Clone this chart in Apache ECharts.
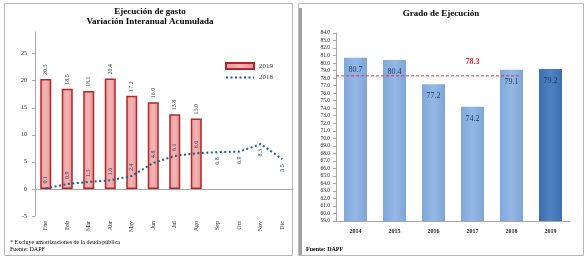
<!DOCTYPE html>
<html><head><meta charset="utf-8">
<script src="https://cdn.jsdelivr.net/npm/echarts@6/dist/echarts.min.js"></script>
<style>html,body{margin:0;padding:0;background:#fff}#c{width:586px;height:258px}</style>
</head><body><div id="c"></div>
<script>
// Left chart data
const months = ["Ene","Feb","Mar","Abr","May","Jun","Jul","Ago","Sep","Oct","Nov","Dic"];
const gasto2019 = [20.3, 18.5, 18.1, 20.4, 17.2, 16.0, 13.8, 13.0];
const gasto2018 = [0.1, 0.9, 1.3, 1.6, 2.4, 4.8, 6.1, 6.6, 6.8, 6.9, 8.3, 5.5];
const leftTicks = [-5, 0, 5, 10, 15, 20, 25];
// Right chart data
const years = ["2014","2015","2016","2017","2018","2019"];
const grado = [80.7, 80.4, 77.2, 74.2, 79.1, 79.2];
const promedio = 78.3;
const rightTicks = [59,60,61,62,63,64,65,66,67,68,69,70,71,72,73,74,75,76,77,78,79,80,81,82,83,84];

const serif = "Liberation Serif";
const chart = echarts.init(document.getElementById('c'), null, {renderer:'canvas'});
const lineLabelTop = {position:'top', align:'left', distance:5};
const lineLabelBottom = {position:'bottom', align:'right', distance:5};
chart.setOption({
  animation:false,
  textStyle:{fontFamily:serif},
  graphic:[
    {type:'rect', shape:{x:4.5,y:3.5,width:288,height:252}, style:{fill:'none',stroke:'#b8b8b8',lineWidth:1}},
    {type:'rect', shape:{x:298.5,y:3.5,width:285,height:252}, style:{fill:'none',stroke:'#b8b8b8',lineWidth:1}},
    {type:'rect', shape:{x:299,y:8,width:3,height:247}, style:{fill:'#a0a0a0'}},
    {type:'text', x:150, y:7, style:{text:'Ejecución de gasto', font:'bold 9px "Liberation Serif"', fill:'#000', textAlign:'center'}},
    {type:'text', x:150, y:17, style:{text:'Variación Interanual Acumulada', font:'bold 9px "Liberation Serif"', fill:'#000', textAlign:'center'}},
    {type:'text', x:10, y:239, style:{text:'* Excluye amortizaciones de la deuda pública', font:'6px "Liberation Serif"', fill:'#000'}},
    {type:'text', x:10, y:246, style:{text:'Fuente: DAPF', font:'6px "Liberation Serif"', fill:'#000'}},
    {type:'text', x:441, y:9, style:{text:'Grado de Ejecución', font:'bold 9px "Liberation Serif"', fill:'#000', textAlign:'center'}},
    {type:'text', x:306, y:246, style:{text:'Fuente: DAPF', font:'bold 6px "Liberation Serif"', fill:'#000'}}
  ],
  legend:{
    left:220, top:57, orient:'vertical', itemGap:4, itemWidth:28, itemHeight:6,
    textStyle:{fontSize:7, fontFamily:serif, color:'#333'},
    data:[{name:'2019', icon:'rect'}, {name:'2018', itemStyle:{opacity:0}}]
  },
  grid:[
    {left:35, right:293, top:32, bottom:42},
    {left:336, right:16, top:33, bottom:37}
  ],
  xAxis:[
    {gridIndex:0, type:'category', data:months, axisLine:{onZero:true, lineStyle:{color:'#a6a6a6'}}, axisTick:{show:false}, axisLabel:{show:false}},
    {gridIndex:0, type:'category', data:months, position:'bottom', axisLine:{show:false, onZero:false}, axisTick:{show:false},
      axisLabel:{rotate:90, fontSize:6, color:'#222', fontFamily:serif, margin:5}},
    {gridIndex:1, type:'category', data:years, axisLine:{lineStyle:{color:'#a6a6a6'}}, axisTick:{show:false},
      axisLabel:{fontSize:6, fontWeight:'bold', color:'#222', fontFamily:serif, margin:7}},
    {gridIndex:1, type:'value', min:0, max:6, show:false}
  ],
  yAxis:[
    {gridIndex:0, type:'value', min:-5, max:29, interval:5, splitLine:{show:false},
      axisLine:{show:true, lineStyle:{color:'#a6a6a6'}}, axisTick:{show:true, length:3},
      axisLabel:{fontSize:6, color:'#222', fontFamily:serif, showMaxLabel:false, margin:8}},
    {gridIndex:1, type:'value', min:59, max:84, interval:1, splitLine:{show:false},
      axisLine:{show:true, lineStyle:{color:'#a6a6a6'}}, axisTick:{show:true, length:3},
      axisLabel:{fontSize:5.5, color:'#222', fontFamily:serif, margin:6, formatter:v=>v.toFixed(1)}}
  ],
  series:[
    {name:'2019', type:'bar', xAxisIndex:0, yAxisIndex:0, data:gasto2019, barWidth:11,
      itemStyle:{color:new echarts.graphic.LinearGradient(0,0,1,0,[{offset:0,color:'#e99a9a'},{offset:0.5,color:'#f3b6b6'},{offset:1,color:'#e28f8f'}]), borderColor:'#b3262b', borderWidth:1.5},
      label:{show:true, position:'top', rotate:90, align:'left', verticalAlign:'middle', distance:4, fontSize:6, color:'#333', fontFamily:serif, formatter:p=>p.value.toFixed(1)}, z:2},
    {name:'2018', type:'line', xAxisIndex:0, yAxisIndex:0,
      data:gasto2018.map((v,i)=>({value:v, label: i < gasto2019.length ? lineLabelTop : lineLabelBottom})),
      symbol:'circle', symbolSize:0, showSymbol:true,
      lineStyle:{color:'#1f5e8a', width:2, type:[2,2.5]}, itemStyle:{color:'#1f5e8a'},
      labelLayout:{hideOverlap:false},
      label:{show:true, rotate:90, verticalAlign:'middle', fontSize:6, color:'#1f3864', fontFamily:serif, formatter:p=>p.value.toFixed(1)}, z:3},
    {name:'Grado', type:'bar', xAxisIndex:2, yAxisIndex:1, data:grado.map((v,i)=>({value:v, itemStyle:{color: i===5 ? new echarts.graphic.LinearGradient(0,0,1,0,[{offset:0,color:'#3d6fb0'},{offset:0.5,color:'#4f82c2'},{offset:1,color:'#3d6fb0'}]) : new echarts.graphic.LinearGradient(0,0,1,0,[{offset:0,color:'#7fa7da'},{offset:0.5,color:'#94b8e6'},{offset:1,color:'#7ea5d8'}])}})),
      barWidth:23,
      label:{show:true, position:'insideTop', distance:8, fontSize:8, color:'#1f3864', fontFamily:serif, formatter:p=>p.value.toFixed(1)},
      markPoint:{symbol:'circle', symbolSize:0, data:[{coord:['2017', promedio], value:promedio}],
        label:{show:true, offset:[0,-14], fontSize:8, fontWeight:'bold', color:'#e0242a', fontFamily:serif, formatter:()=>promedio.toFixed(1)}}, z:2},
    {name:'Promedio', type:'line', xAxisIndex:3, yAxisIndex:1, data:[[0,promedio],[4.7,promedio]], symbol:'none',
      lineStyle:{color:'#d9363b', width:1, type:[3,2]}, z:3}
  ]
});
</script></body></html>
